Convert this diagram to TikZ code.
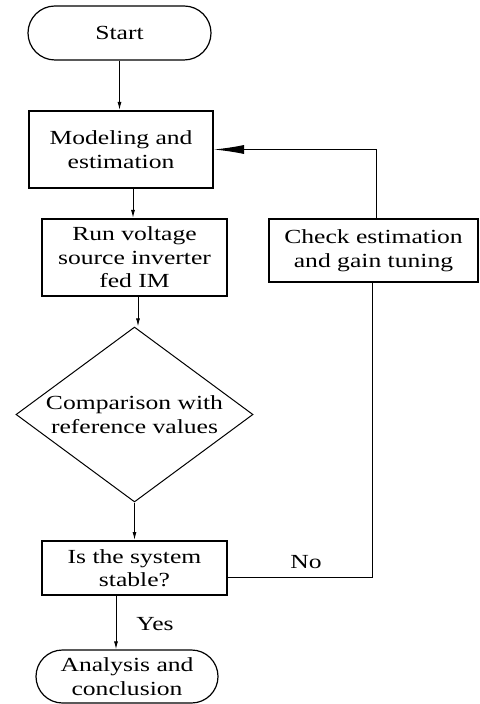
\documentclass[tikz,border=0pt]{standalone}
\usepackage{fontspec}
\setmainfont{Liberation Serif}[FakeStretch=1.28]
\usetikzlibrary{shapes.misc,shapes.geometric,arrows.meta,calc}
\begin{document}
\begin{tikzpicture}[x=0.5pt,y=-0.5pt,
  every node/.style={font=\fontsize{10}{11.75}\selectfont, align=center, inner sep=0pt},
  term/.style={draw, rounded rectangle, line width=0.6pt},
  box/.style={draw, rectangle, line width=1pt},
  dia/.style={draw, diamond, line width=0.5pt},
  conn/.style={line width=0.5pt},
  arr/.style={conn, -{Latex[length=4pt,width=2pt]}},
  bigarr/.style={conn, -{Latex[length=15pt,width=4.5pt]}}
]
\useasboundingbox (0,0) rectangle (479,704);
\node[term, minimum width=91.5pt, minimum height=27pt] (start) at (119.5,33) {Start};
\node[box, minimum width=92pt, minimum height=38.5pt] (model) at (121,149.5) {Modeling and\\estimation};
\node[box, minimum width=92.5pt, minimum height=38.5pt] (run) at (134.5,257.5) {Run voltage\\source inverter\\fed IM};
\node[box, minimum width=104.5pt, minimum height=31.5pt] (check) at (373.5,250.5) {Check estimation\\and gain tuning};
\node[dia, minimum width=118.5pt, minimum height=87.5pt] (dia) at (134.5,414.5) {};
\node (diatext) at (dia.center) {Comparison with\\reference values};
\node[box, minimum width=92.5pt, minimum height=27pt] (stable) at (134.5,568) {Is the system\\stable?};
\node[term, minimum width=91pt, minimum height=26.5pt] (analysis) at (127,676.5) {Analysis and\\conclusion};
\node (no) at (306,562) {No};
\node (yes) at (155,624) {Yes};

\coordinate (ms) at ($(model.south)+(12,0)$);
\coordinate (rs) at ($(run.south)+(3.5,0)$);
\coordinate (ss) at ($(stable.south)+(-18.5,0)$);
\coordinate (se) at ($(stable.east)+(0,9)$);
\coordinate (cs) at ($(check.south)+(-1.5,0)$);
\coordinate (cn) at ($(check.north)+(3,0)$);

\draw[arr] (start.south) -- (start.south |- model.north);
\draw[arr] (ms) -- (ms |- run.north);
\draw[arr] (rs) -- (rs |- dia.north);
\draw[arr] (dia.south) -- (dia.south |- stable.north);
\draw[arr] (ss) -- (ss |- analysis.north);
\draw[conn] (se) -- (cs |- se) -- (cs);
\draw[bigarr] (cn) -- (cn |- model.east) -- (model.east);
\end{tikzpicture}
\end{document}
